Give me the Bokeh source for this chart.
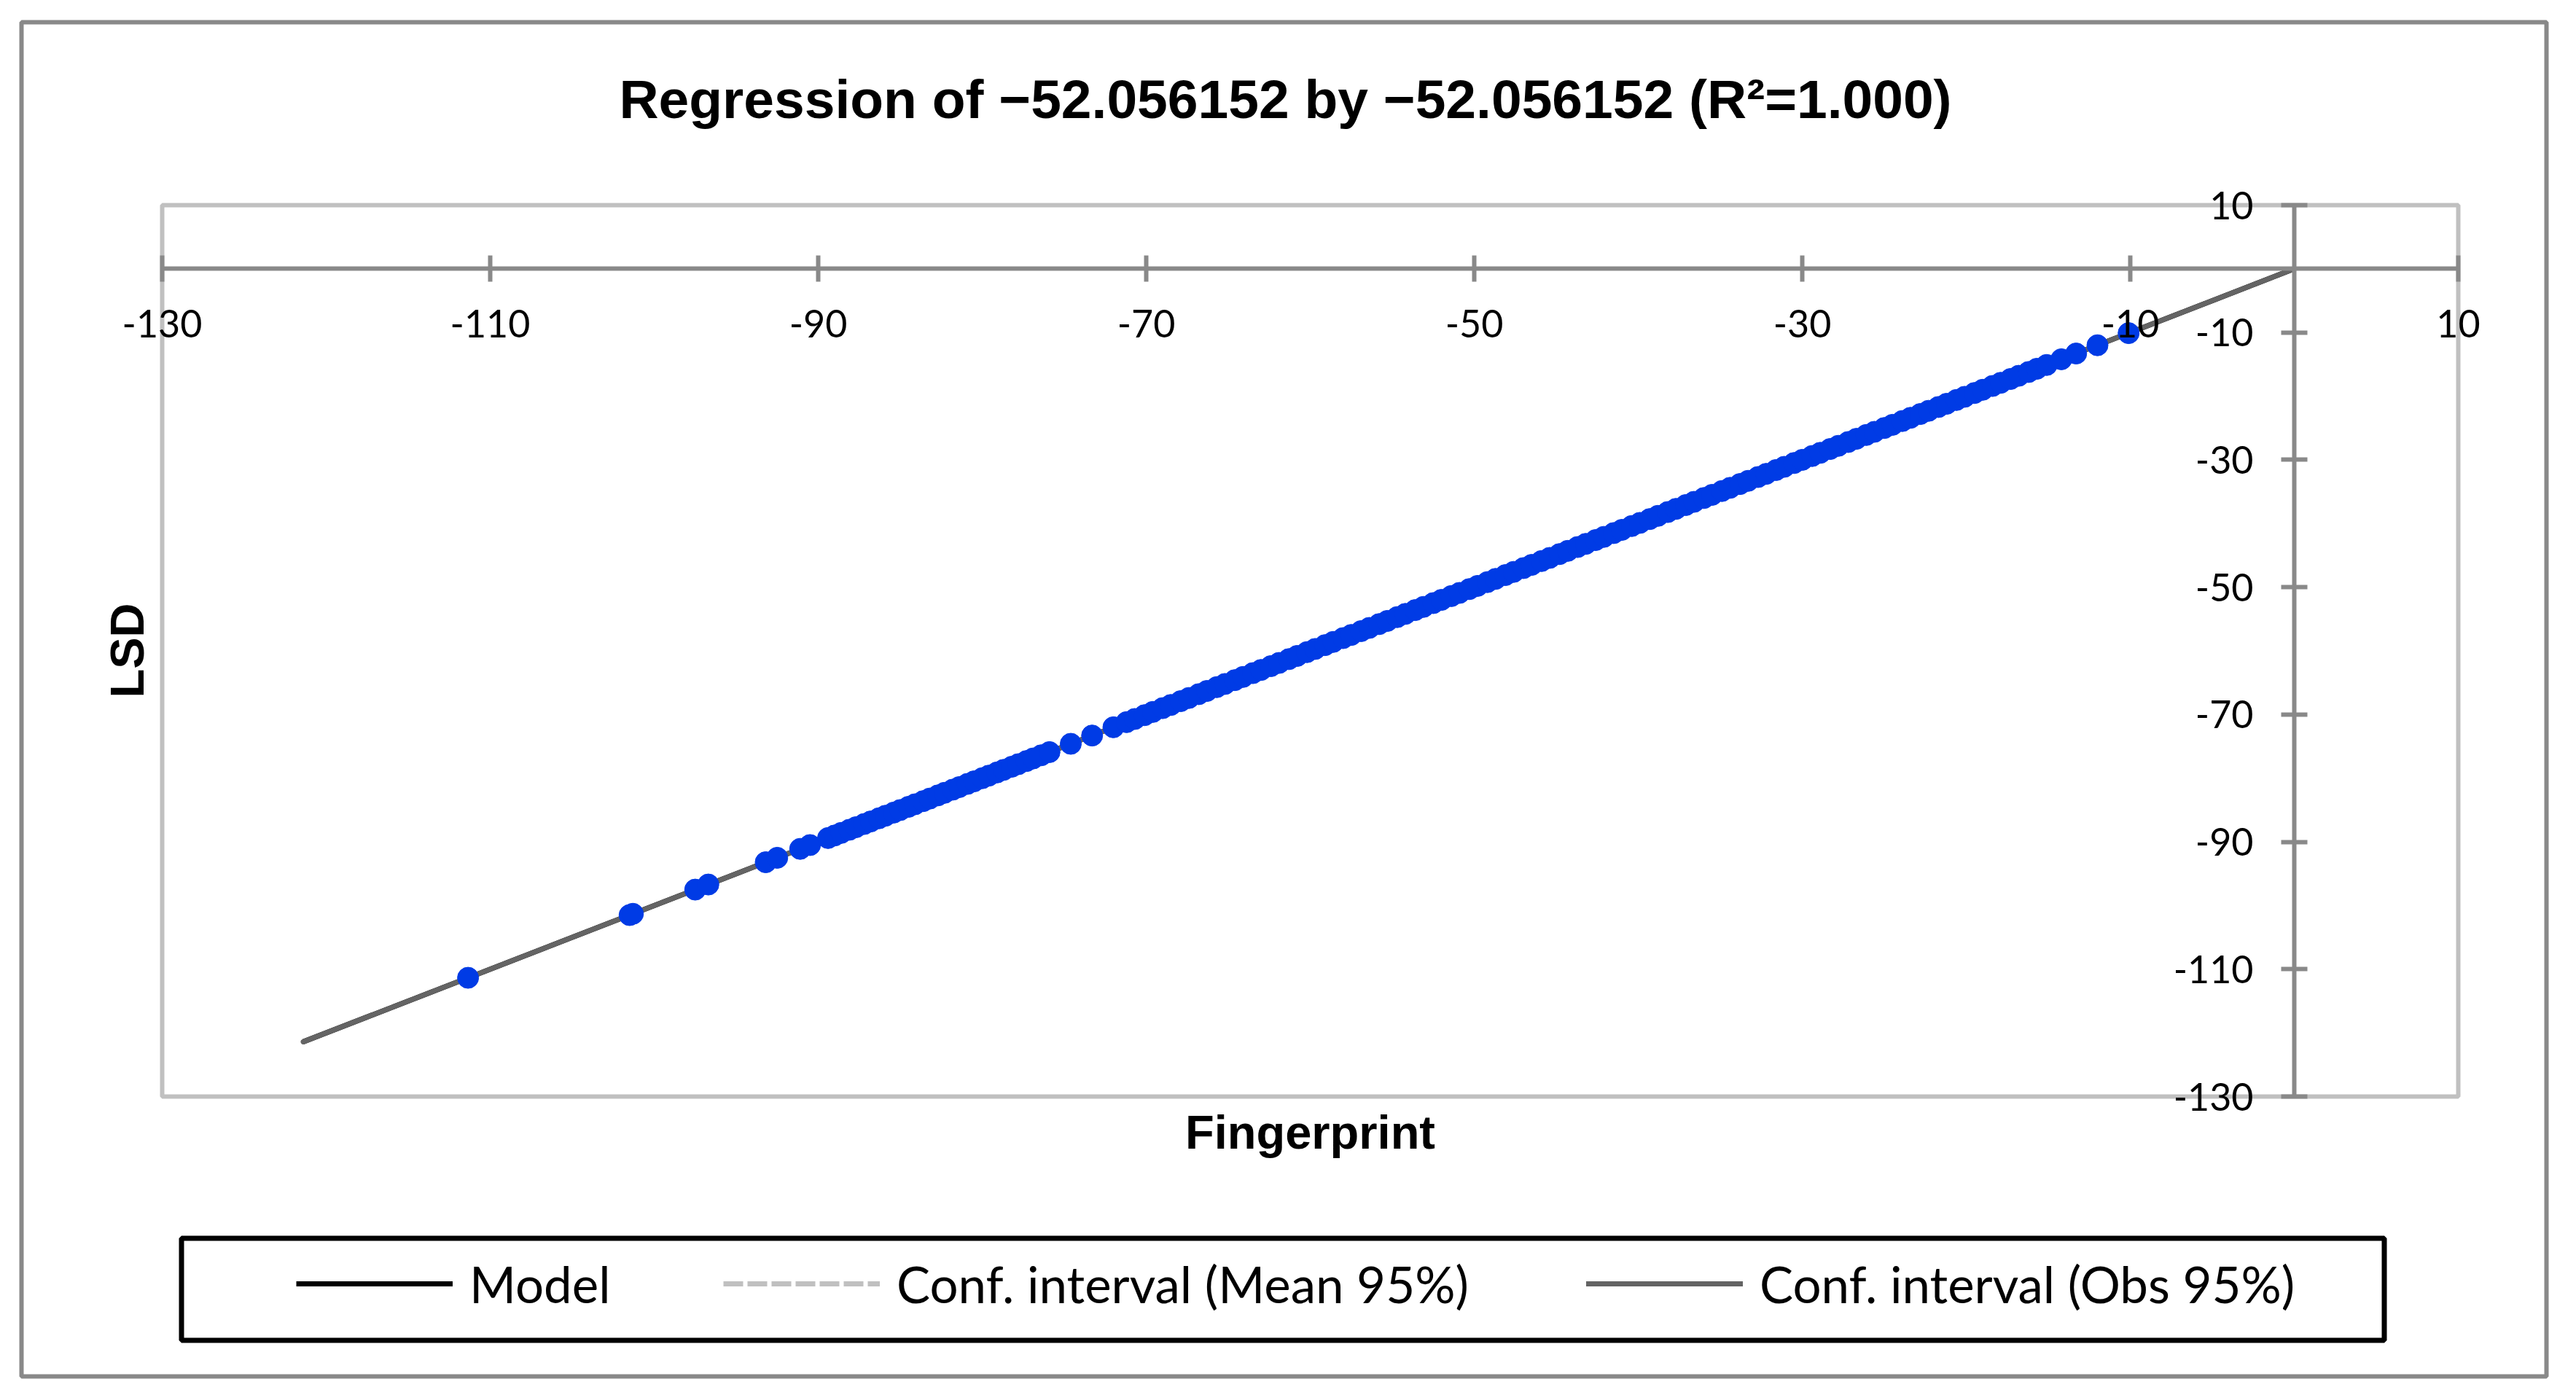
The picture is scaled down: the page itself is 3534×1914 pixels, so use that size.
import math
from bokeh.plotting import figure
from bokeh.models import (Range1d, FixedTicker, Label, Legend, LegendItem, BoxAnnotation)
from bokeh.embed import file_html
from bokeh.resources import INLINE

# ---------------- data ----------------
title_text = "Regression of \u221252.056152 by \u221252.056152 (R\u00b2=1.000)"
x_title = "Fingerprint"
y_title = "LSD"
legend_labels = ["Model", "Conf. interval (Mean 95%)", "Conf. interval (Obs 95%)"]

x_ticks = [-130, -110, -90, -70, -50, -30, -10, 10]
y_ticks = [10, -10, -30, -50, -70, -90, -110, -130]
x_tick_labels = ["-130", "-110", "-90", "-70", "-50", "-30", "-10", "10"]
y_tick_labels = ["10", "-10", "-30", "-50", "-70", "-90", "-110", "-130"]

fingerprint = [
    -111.35, -101.5, -101.3, -97.5, -96.7, -93.2, -92.5, -91.1, -90.5, -89.4,
    -89.0, -88.6, -88.1, -87.7, -87.2, -86.8, -86.3, -85.9, -85.4, -85.0,
    -84.5, -84.1, -83.6, -83.2, -82.7, -82.3, -81.8, -81.4, -80.9, -80.5,
    -80.0, -79.6, -79.1, -78.7, -78.2, -77.8, -77.3, -76.9, -76.4, -75.9,
    -74.6, -73.3, -72.0, -71.2, -70.7, -70.1, -69.6, -69.0, -68.5, -67.9,
    -67.4, -66.8, -66.3, -65.7, -65.2, -64.6, -64.1, -63.5, -63.0, -62.4,
    -61.9, -61.3, -60.8, -60.2, -59.7, -59.1, -58.6, -58.0, -57.5, -56.9,
    -56.4, -55.8, -55.3, -54.7, -54.2, -53.6, -53.1, -52.5, -52.0, -51.4,
    -50.9, -50.3, -49.8, -49.2, -48.7, -48.1, -47.6, -47.0, -46.5, -45.9,
    -45.4, -44.8, -44.3, -43.7, -43.2, -42.6, -42.1, -41.5, -41.0, -40.4,
    -39.9, -39.3, -38.8, -38.2, -37.7, -37.1, -36.6, -36.0, -35.5, -34.9,
    -34.4, -33.8, -33.3, -32.7, -32.2, -31.6, -31.1, -30.5, -30.0, -29.4,
    -28.9, -28.3, -27.8, -27.2, -26.7, -26.1, -25.6, -25.0, -24.5, -23.9,
    -23.4, -22.8, -22.3, -21.7, -21.2, -20.6, -20.1, -19.5, -19.0, -18.4,
    -17.9, -17.3, -16.8, -16.2, -15.7, -15.1, -14.2, -13.3, -12.0, -10.1,
]
# R² = 1.000: LSD equals Fingerprint for every observation
lsd = list(fingerprint)

model_x = [-121.4, 0.0]
model_y = [-121.4, 0.0]
mean_ci_x = [-121.4, 0.0]
mean_ci_y = [-121.4, 0.0]
obs_ci_x = [-121.4, 0.0]
obs_ci_y = [-121.4, 0.0]

# ---------------- geometry (canvas pixels) ----------------
# outer chart box = bokeh frame
OUT_L, OUT_T, OUT_R, OUT_B = 29, 30, 3493, 1888
# inner plot area (data -130..10 both ways)
PA_L, PA_T, PA_R, PA_B = 222, 281, 3372, 1504
X0, X1, Y0, Y1 = -130, 10, -130, 10
SX = (PA_R - PA_L) / (X1 - X0)   # px per x unit
SY = (PA_B - PA_T) / (Y1 - Y0)   # px per y unit

def dx(px):
    return X0 + (px - PA_L) / SX

def dy(py):
    return Y1 - (py - PA_T) / SY

FW, FH = OUT_R - OUT_L, OUT_B - OUT_T

p = figure(
    frame_width=FW, frame_height=FH,
    min_border_left=OUT_L, min_border_top=OUT_T,
    min_border_right=20, min_border_bottom=20,
    x_range=Range1d(dx(OUT_L), dx(OUT_R)), y_range=Range1d(dy(OUT_B), dy(OUT_T)),
    output_backend="svg", toolbar_location=None,
    background_fill_color="white", border_fill_color="white",
)
p.outline_line_color = "#898989"
p.outline_line_width = 6
p.xgrid.visible = False
p.ygrid.visible = False

# inner plot area border
p.add_layout(BoxAnnotation(left=X0, right=X1, bottom=Y0, top=Y1, level="underlay",
                           fill_alpha=0, line_color="#C0C0C0", line_width=6, line_alpha=1))

for ax, ticks, labels, standoff in ((p.xaxis[0], x_ticks, x_tick_labels, 38),
                                    (p.yaxis[0], y_ticks, y_tick_labels, 38)):
    ax.fixed_location = 0
    ax.bounds = (X0, X1)
    ax.ticker = FixedTicker(ticks=ticks)
    ax.major_label_overrides = {t: s for t, s in zip(ticks, labels)}
    ax.axis_line_color = "#898989"
    ax.axis_line_width = 6
    ax.major_tick_line_color = "#898989"
    ax.major_tick_line_width = 6
    ax.major_tick_in = 18
    ax.major_tick_out = 18
    ax.minor_tick_in = 0
    ax.minor_tick_out = 0
    ax.major_label_text_font = "Lato"
    ax.major_label_text_font_size = "52px"
    ax.major_label_text_color = "black"
    ax.major_label_standoff = standoff

# lines
r_mean = p.line(mean_ci_x, mean_ci_y, line_color="#C0C0C0", line_width=7, line_dash="27 6")
r_model = p.line(model_x, model_y, line_color="black", line_width=7)
r_obs = p.line(obs_ci_x, obs_ci_y, line_color="#646464", line_width=7, line_cap="round")

# points
p.scatter(fingerprint, lsd, size=29, fill_color="#003BE5", line_color="#003BE5")

# legend box
p.add_layout(BoxAnnotation(left=dx(248.5), right=dx(3270.5), top=dy(1698.5), bottom=dy(1838.5),
                           fill_alpha=0, line_color="black", line_width=7, line_alpha=1))

# legends (one per entry, placed individually)
for label, rend, gx in ((legend_labels[0], r_model, 406),
                        (legend_labels[1], r_mean, 992),
                        (legend_labels[2], r_obs, 2176)):
    leg = Legend(items=[LegendItem(label=label, renderers=[rend])],
                 location=(gx - OUT_L, OUT_B - 1811),
                 orientation="horizontal", padding=0, margin=0, spacing=0,
                 glyph_width=215, glyph_height=100, label_height=100,
                 label_standoff=23, label_text_font="Lato",
                 label_text_font_size="69px", label_text_color="black",
                 border_line_alpha=0, background_fill_alpha=0)
    p.add_layout(leg)

# titles
p.add_layout(Label(x=dx(1763), y=dy(135), text=title_text, text_align="center",
                   text_baseline="alphabetic", text_font="Liberation Sans",
                   text_font_style="bold", text_font_size="75px", text_color="black"))
p.add_layout(Label(x=dx(1797), y=dy(1553), text=x_title, text_align="center",
                   text_baseline="alphabetic", text_font="Liberation Sans",
                   text_font_style="bold", text_font_size="65px", text_color="black"))
p.add_layout(Label(x=dx(174), y=dy(892), text=y_title, text_align="center",
                   text_baseline="alphabetic", angle=math.pi / 2, text_font="Liberation Sans",
                   text_font_style="bold", text_font_size="65px", text_color="black"))

open("out.html", "w").write(file_html(p, INLINE))
